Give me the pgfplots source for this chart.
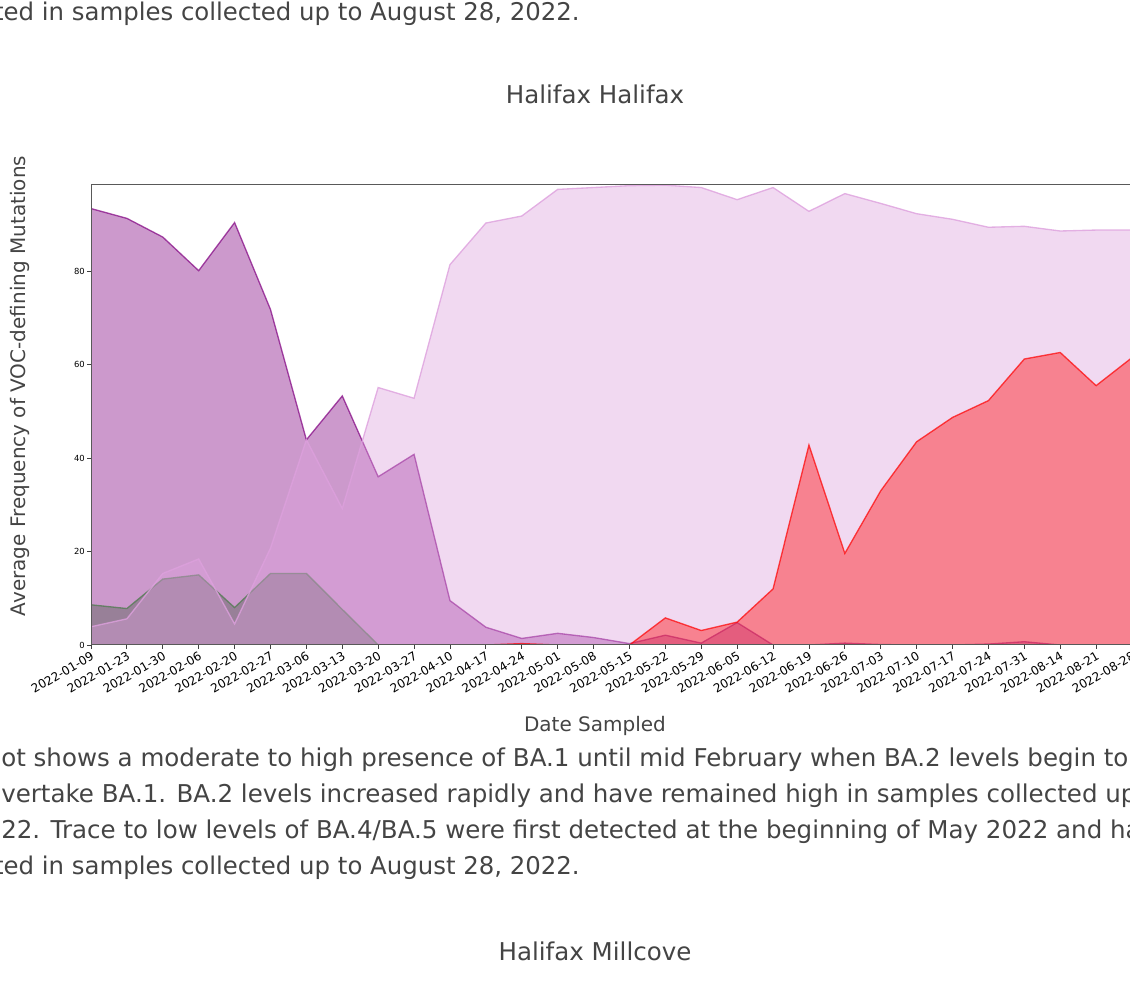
\documentclass[border=0pt]{standalone}
\usepackage{fontspec}
\setmainfont{DejaVu Sans}
\usepackage{pgfplots}
\pgfplotsset{compat=1.18}
\usepackage{pgfplotstable}
\definecolor{txt}{HTML}{444444}
\definecolor{ba1}{RGB}{128,0,128}
\definecolor{ba2}{RGB}{221,160,221}
\definecolor{dl}{RGB}{75,90,75}
\definecolor{dledge}{RGB}{90,125,90}
\definecolor{ba45}{RGB}{255,0,0}

\pgfplotstableread{
x y
0 93.4
1 91.3
2 87.3
3 80.1
4 90.4
5 71.8
6 43.9
7 53.3
8 36.0
9 40.8
10 9.5
11 3.8
12 1.4
13 2.5
14 1.6
15 0.3
16 2.1
17 0.4
18 4.8
19 0
20 0
21 0.4
22 0.1
23 0
24 0
25 0.2
26 0.7
27 0
28 0
29 0
}\baone
\pgfplotstableread{
x y
0 8.6
1 7.8
2 14.1
3 15.0
4 8.0
5 15.3
6 15.3
7 7.6
8 0
9 0
10 0
11 0
12 0
13 0
14 0
15 0
16 0
17 0
18 0
19 0
20 0
21 0
22 0
23 0
24 0
25 0
26 0
27 0
28 0
29 0
}\delta
\pgfplotstableread{
x y
0 3.9
1 5.6
2 15.3
3 18.4
4 4.5
5 20.7
6 43.9
7 29.2
8 55.1
9 52.8
10 81.4
11 90.3
12 91.8
13 97.5
14 97.9
15 98.3
16 98.4
17 97.9
18 95.3
19 97.9
20 92.8
21 96.6
22 94.5
23 92.3
24 91.1
25 89.4
26 89.6
27 88.6
28 88.8
29 88.8
}\batwo
\pgfplotstableread{
x y
0 0
1 0
2 0
3 0
4 0
5 0
6 0
7 0
8 0
9 0
10 0
11 0
12 0.3
13 0
14 0
15 0
16 5.8
17 3.1
18 4.9
19 12.0
20 42.8
21 19.6
22 33.0
23 43.5
24 48.7
25 52.3
26 61.2
27 62.6
28 55.5
29 61.5
}\bafour

\begin{document}
\begin{tikzpicture}[x=0.75pt,y=0.75pt]
\useasboundingbox (0,0) rectangle (1130,999);
% page text
\begin{scope}[every node/.style={inner sep=0pt, text=txt, font=\fontsize{18.4}{22}\selectfont}]
\node[anchor=base east, font=\fontsize{18.3}{22}\selectfont] at (580,{999-20.7}) {detected in samples collected up to August 28, 2022.};
\node[anchor=base] at (595,{999-103.3}) {Halifax Halifax};
\node[anchor=base west] at (1,{999-766.7}) {ot shows a moderate to high presence of BA.1 until mid February when BA.2 levels begin to};
\node[anchor=base west] at (1,{999-802.7}) {vertake BA.1. BA.2 levels increased rapidly and have remained high in samples collected up};
\node[anchor=base west] at (1,{999-838.7}) {22. Trace to low levels of BA.4/BA.5 were first detected at the beginning of May 2022 and have};
\node[anchor=base east, font=\fontsize{18.3}{22}\selectfont] at (580,{999-874.7}) {detected in samples collected up to August 28, 2022.};
\node[anchor=base] at (595,{999-960}) {Halifax Millcove};
\end{scope}
\node[inner sep=0pt, text=txt, font=\fontsize{15}{18}\selectfont, anchor=base] at (595,{999-731.7}) {Date Sampled};
\node[inner sep=0pt, text=txt, font=\fontsize{15}{18}\selectfont, rotate=90, anchor=center] at (20,{999-386}) {Average Frequency of VOC-defining Mutations};

\begin{axis}[
  at={(68.25pt,265.5pt)}, anchor=south west,
  scale only axis, width=780.75pt, height=345.2pt,
  xmin=0, xmax=29, ymin=0, ymax=98.5,
  axis on top,
  axis line style={draw=black!65, line width=0.75pt},
  tick style={draw=black!75, line width=0.6pt},
  major tick length=3pt,
  tick align=outside,
  xtick pos=bottom, ytick pos=left,
  ytick={0,20,40,60,80},
  yticklabel style={font=\fontsize{6.3}{7}\selectfont, inner sep=1.5pt},
  xtick={0,...,29},
  xticklabels={2022-01-09,2022-01-23,2022-01-30,2022-02-06,2022-02-20,2022-02-27,2022-03-06,2022-03-13,2022-03-20,2022-03-27,2022-04-10,2022-04-17,2022-04-24,2022-05-01,2022-05-08,2022-05-15,2022-05-22,2022-05-29,2022-06-05,2022-06-12,2022-06-19,2022-06-26,2022-07-03,2022-07-10,2022-07-17,2022-07-24,2022-07-31,2022-08-14,2022-08-21,2022-08-28},
  xticklabel style={rotate=30, anchor=north east, font=\fontsize{9}{10}\selectfont, inner sep=1pt},
  /pgf/number format/assume math mode=true,
  clip=true,
]
\addplot[fill=ba1, fill opacity=0.4, draw=ba1, draw opacity=0.7, line width=1pt] table {\baone} \closedcycle;
\addplot[fill=dl, fill opacity=0.4, draw=dledge, draw opacity=0.85, line width=1pt] table {\delta} \closedcycle;
\addplot[fill=ba2, fill opacity=0.4, draw=ba2, draw opacity=0.8, line width=1pt] table {\batwo} \closedcycle;
\addplot[fill=ba45, fill opacity=0.4, draw=ba45, draw opacity=0.7, line width=1pt] table {\bafour} \closedcycle;
\end{axis}
\end{tikzpicture}
\end{document}
